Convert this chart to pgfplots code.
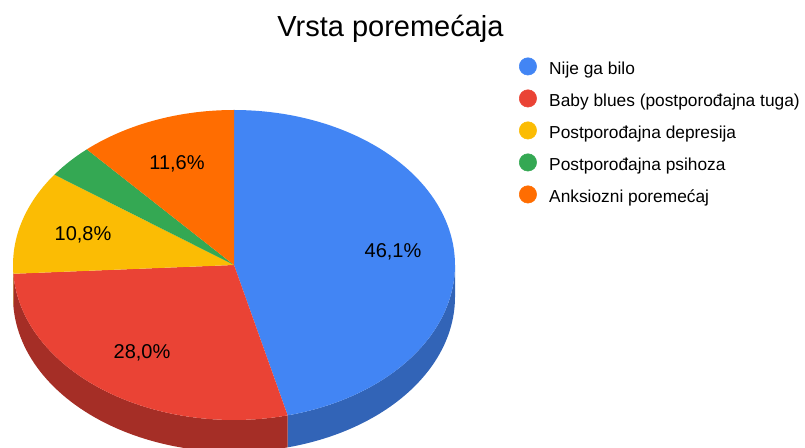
\documentclass[border=0pt]{standalone}
\usepackage{fontspec}
\setmainfont{Liberation Sans}
\usepackage{pgfplots}
\pgfplotsset{compat=1.18}
\usepgfplotslibrary{fillbetween}
\definecolor{cBlue}{HTML}{4285F4}
\definecolor{cBlueS}{HTML}{3264B7}
\definecolor{cRed}{HTML}{EA4335}
\definecolor{cRedS}{HTML}{A52E26}
\definecolor{cYel}{HTML}{FBBC04}
\definecolor{cYelS}{HTML}{B88A03}
\definecolor{cGrn}{HTML}{34A853}
\definecolor{cOrg}{HTML}{FF6D01}
% data (percent)
\def\vA{46.1}\def\vB{28.0}\def\vC{10.8}\def\vD{3.5}\def\vE{11.6}
\pgfmathsetmacro\tA{0}
\pgfmathsetmacro\tB{3.6*\vA}
\pgfmathsetmacro\tC{\tB+3.6*\vB}
\pgfmathsetmacro\tD{\tC+3.6*\vC}
\pgfmathsetmacro\tE{\tD+3.6*\vD}
\pgfmathsetmacro\tF{\tE+3.6*\vE}
% geometry (pixels)
\def\cx{234}\def\cy{265}\def\ra{221}\def\rb{155}\def\dep{32}
\begin{document}
\begin{tikzpicture}
\begin{axis}[at={(0,0)}, anchor=south west,
  width=603.75pt, height=336pt, scale only axis,
  xmin=0, xmax=805, ymin=0, ymax=448, y dir=reverse,
  hide axis, clip=true,
  legend style={at={(axis cs:519,57.5)}, anchor=north west, draw=none, fill=none,
    font=\fontsize{13}{15}\selectfont, inner sep=0pt, outer sep=0pt,
    row sep={24pt,between origins},
    nodes={inner sep=0pt, text height=9.5pt, text depth=3pt},
    /tikz/every odd column/.append style={column sep=9.25pt}},
  legend cell align=left]
% side faces
\addplot[name path=bt, draw=none, domain=90:\tB, samples=60, forget plot] ({\cx+\ra*sin(x)},{\cy-\rb*cos(x)});
\addplot[name path=bb, draw=none, domain=90:\tB, samples=60, forget plot] ({\cx+\ra*sin(x)},{\cy+\dep-\rb*cos(x)});
\addplot[cBlueS, forget plot] fill between[of=bt and bb];
\addplot[name path=rt, draw=none, domain=\tB:\tC, samples=60, forget plot] ({\cx+\ra*sin(x)},{\cy-\rb*cos(x)});
\addplot[name path=rb, draw=none, domain=\tB:\tC, samples=60, forget plot] ({\cx+\ra*sin(x)},{\cy+\dep-\rb*cos(x)});
\addplot[cRedS, forget plot] fill between[of=rt and rb];
\addplot[name path=yt, draw=none, domain=\tC:270, samples=5, forget plot] ({\cx+\ra*sin(x)},{\cy-\rb*cos(x)});
\addplot[name path=yb, draw=none, domain=\tC:270, samples=5, forget plot] ({\cx+\ra*sin(x)},{\cy+\dep-\rb*cos(x)});
\addplot[cYelS, forget plot] fill between[of=yt and yb];
% top faces
\addplot[fill=cBlue, draw=none, domain=\tA:\tB, samples=90, forget plot] ({\cx+\ra*sin(x)},{\cy-\rb*cos(x)}) -- (axis cs:\cx,\cy) -- cycle;
\addplot[fill=cRed, draw=none, domain=\tB:\tC, samples=60, forget plot] ({\cx+\ra*sin(x)},{\cy-\rb*cos(x)}) -- (axis cs:\cx,\cy) -- cycle;
\addplot[fill=cYel, draw=none, domain=\tC:\tD, samples=30, forget plot] ({\cx+\ra*sin(x)},{\cy-\rb*cos(x)}) -- (axis cs:\cx,\cy) -- cycle;
\addplot[fill=cGrn, draw=none, domain=\tD:\tE, samples=15, forget plot] ({\cx+\ra*sin(x)},{\cy-\rb*cos(x)}) -- (axis cs:\cx,\cy) -- cycle;
\addplot[fill=cOrg, draw=none, domain=\tE:\tF, samples=30, forget plot] ({\cx+\ra*sin(x)},{\cy-\rb*cos(x)}) -- (axis cs:\cx,\cy) -- cycle;
% legend
\addlegendimage{legend image code/.code={\fill[cBlue] (0pt,2.6pt) circle (6.5pt);}}
\addlegendimage{legend image code/.code={\fill[cRed] (0pt,2.6pt) circle (6.5pt);}}
\addlegendimage{legend image code/.code={\fill[cYel] (0pt,2.6pt) circle (6.5pt);}}
\addlegendimage{legend image code/.code={\fill[cGrn] (0pt,2.6pt) circle (6.5pt);}}
\addlegendimage{legend image code/.code={\fill[cOrg] (0pt,2.6pt) circle (6.5pt);}}
\legend{Nije ga bilo, Baby blues (postporođajna tuga), Postporođajna depresija, Postporođajna psihoza, Anksiozni poremećaj}
% labels
\node[anchor=base, font=\fontsize{15}{17}\selectfont] at (axis cs:393,257.3) {46,1\%};
\node[anchor=base, font=\fontsize{15}{17}\selectfont] at (axis cs:142,358.3) {28,0\%};
\node[anchor=base, font=\fontsize{15}{17}\selectfont] at (axis cs:83,240.7) {10,8\%};
\node[anchor=base, font=\fontsize{15}{17}\selectfont] at (axis cs:177,169.3) {11,6\%};
% title
\node[anchor=base, font=\fontsize{21.75}{24}\selectfont] at (axis cs:390.5,36.5) {Vrsta poremećaja};
\end{axis}
\pgfresetboundingbox
\useasboundingbox (0,0) rectangle (603.75pt,336pt);
\end{tikzpicture}
\end{document}
